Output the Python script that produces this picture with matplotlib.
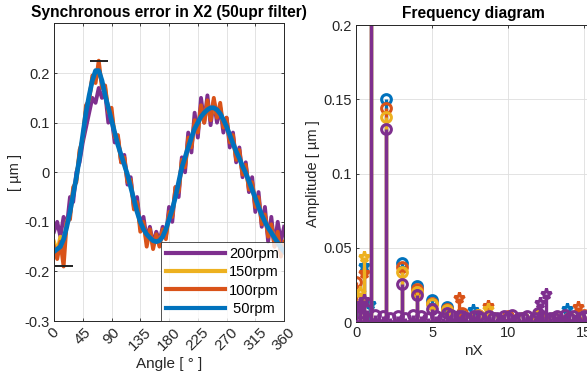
import numpy as np
import matplotlib.pyplot as plt

plt.rcParams['font.family'] = ['Liberation Sans', 'DejaVu Sans']

# ---- left panel: synchronous error vs angle ----
angle = np.arange(0, 365, 5)

err_50 = [-0.160, -0.155, -0.150, -0.135, -0.110, -0.080, -0.045, -0.010, 0.030, 0.075,
          0.120, 0.155, 0.185, 0.205, 0.205, 0.185, 0.155, 0.130, 0.105, 0.080,
          0.055, 0.035, 0.015, -0.005, -0.030, -0.055, -0.080, -0.100, -0.115, -0.125,
          -0.132, -0.138, -0.140, -0.138, -0.130, -0.115, -0.095, -0.075, -0.050, -0.020,
          0.010, 0.030, 0.050, 0.070, 0.088, 0.100, 0.112, 0.120, 0.126, 0.130,
          0.130, 0.126, 0.118, 0.106, 0.092, 0.075, 0.058, 0.042, 0.028, 0.012,
          -0.002, -0.018, -0.035, -0.052, -0.070, -0.086, -0.100, -0.112, -0.122, -0.132,
          -0.142, -0.152, -0.160]

err_100 = [-0.150, -0.175, -0.140, -0.190, -0.100, -0.095, -0.030, -0.020, 0.045, 0.065,
           0.135, 0.145, 0.195, 0.180, 0.225, 0.170, 0.175, 0.120, 0.130, 0.070,
           0.075, 0.020, 0.030, -0.020, -0.015, -0.075, -0.060, -0.120, -0.100, -0.150,
           -0.115, -0.155, -0.125, -0.150, -0.115, -0.135, -0.080, -0.090, -0.030, -0.040,
           0.025, 0.010, 0.070, 0.050, 0.105, 0.080, 0.135, 0.100, 0.145, 0.105,
           0.150, 0.110, 0.140, 0.090, 0.110, 0.060, 0.075, 0.025, 0.045, -0.005,
           0.015, -0.035, -0.020, -0.070, -0.050, -0.105, -0.085, -0.130, -0.105, -0.150,
           -0.120, -0.170, -0.140]

err_150 = [-0.140, -0.160, -0.130, -0.150, -0.100, -0.085, -0.035, -0.015, 0.040, 0.070,
           0.125, 0.150, 0.190, 0.195, 0.210, 0.180, 0.170, 0.125, 0.120, 0.075,
           0.065, 0.025, 0.025, -0.015, -0.020, -0.065, -0.065, -0.110, -0.105, -0.140,
           -0.120, -0.148, -0.130, -0.145, -0.120, -0.130, -0.085, -0.085, -0.040, -0.035,
           0.020, 0.015, 0.060, 0.055, 0.095, 0.085, 0.125, 0.105, 0.135, 0.110,
           0.140, 0.115, 0.130, 0.095, 0.100, 0.065, 0.065, 0.030, 0.035, 0.000,
           0.005, -0.030, -0.025, -0.060, -0.060, -0.095, -0.090, -0.120, -0.110, -0.140,
           -0.130, -0.160, -0.150]

err_200 = [-0.120, -0.100, -0.130, -0.090, -0.110, -0.050, -0.060, 0.000, 0.020, 0.060,
           0.090, 0.120, 0.150, 0.140, 0.170, 0.150, 0.160, 0.100, 0.110, 0.060,
           0.070, 0.020, 0.035, -0.025, -0.010, -0.070, -0.050, -0.110, -0.090, -0.135,
           -0.110, -0.145, -0.120, -0.140, -0.110, -0.130, -0.070, -0.100, -0.030, -0.050,
           0.030, 0.000, 0.080, 0.040, 0.120, 0.070, 0.150, 0.100, 0.155, 0.095,
           0.145, 0.100, 0.130, 0.080, 0.110, 0.050, 0.080, 0.020, 0.050, -0.010,
           0.020, -0.040, -0.010, -0.080, -0.040, -0.110, -0.070, -0.140, -0.090, -0.150,
           -0.100, -0.140, -0.110]

# ---- right panel: frequency diagram ----
harm_x = [0, 1, 2, 3, 4, 5, 6, 7, 8, 9, 10, 11, 12, 13, 14, 15]
amp_50 = [0.008, 0.50, 0.150, 0.040, 0.024, 0.015, 0.010, 0.004, 0.004, 0.003, 0.003, 0.003, 0.004, 0.003, 0.003, 0.004]
amp_100 = [0.027, 0.50, 0.144, 0.037, 0.022, 0.013, 0.009, 0.006, 0.005, 0.003, 0.004, 0.003, 0.005, 0.003, 0.003, 0.005]
amp_150 = [0.015, 0.50, 0.138, 0.034, 0.020, 0.012, 0.008, 0.004, 0.005, 0.003, 0.003, 0.003, 0.004, 0.003, 0.003, 0.004]
amp_200 = [0.010, 0.50, 0.130, 0.026, 0.018, 0.009, 0.006, 0.004, 0.004, 0.003, 0.003, 0.003, 0.006, 0.003, 0.003, 0.004]

# inter-harmonic peaks (drawn with asterisks)
ih_x_50, ih_a_50 = [0.5, 0.9, 7.7, 13.9], [0.038, 0.012, 0.008, 0.009]
ih_x_100, ih_a_100 = [0.5, 6.8, 8.7, 14.6], [0.033, 0.016, 0.011, 0.010]
ih_x_150, ih_a_150 = [0.25, 0.5, 8.7], [0.020, 0.044, 0.009]
ih_x_200, ih_a_200 = [0.25, 0.5, 12.1, 12.5], [0.012, 0.015, 0.013, 0.019]

# noise floor of the 200rpm run
floor_x = np.arange(0.25, 15.3, 0.5)
floor_200 = [0.006, 0.008, 0.005, 0.004, 0.003, 0.004, 0.003, 0.005, 0.004, 0.003,
             0.004, 0.003, 0.005, 0.004, 0.003, 0.004, 0.003, 0.004, 0.003, 0.004,
             0.005, 0.003, 0.004, 0.003, 0.004, 0.003, 0.004, 0.005, 0.004, 0.003,
             0.004]

c_200, c_150, c_100, c_50 = '#7E2F8E', '#EDB120', '#D95319', '#0072BD'
txt = '#262626'

fig = plt.figure(figsize=(5.87, 3.79), dpi=100)
ax1 = fig.add_axes([0.092, 0.153, 0.392, 0.785])
ax2 = fig.add_axes([0.6065, 0.150, 0.3986, 0.784])

for ax in (ax1, ax2):
    ax.grid(True, color='#dedede', lw=0.6)
    ax.set_axisbelow(True)
    ax.tick_params(direction='in', top=True, right=True, length=2.5, width=0.6,
                   labelsize=10.5, colors=txt, pad=3)
    for s in ax.spines.values():
        s.set_color(txt)
        s.set_linewidth(0.7)

# left
lw = 2.8
ax1.plot(angle, err_200, color=c_200, lw=lw, label='200rpm')
ax1.plot(angle, err_150, color=c_150, lw=lw, label='150rpm')
ax1.plot(angle, err_100, color=c_100, lw=lw, label='100rpm')
ax1.plot(angle, err_50, color=c_50, lw=lw + 0.6, label=' 50rpm')

# max / min markers of the 100rpm trace
i_max, i_min = int(np.argmax(err_100)), int(np.argmin(err_100))
ax1.plot([angle[i_max], angle[i_min]], [err_100[i_max], err_100[i_min]],
         ls='none', marker='_', ms=13, mew=1.4, color='#222222')

ax1.set_xlim(0, 360)
ax1.set_ylim(-0.3, 0.3)
ax1.set_xticks(np.arange(0, 361, 45))
ax1.set_yticks([-0.3, -0.2, -0.1, 0, 0.1, 0.2])
ax1.set_yticklabels(['-0.3', '-0.2', '-0.1', '0', '0.1', '0.2'])
for lab in ax1.get_xticklabels():
    lab.set_rotation(45)
    lab.set_ha('center')
    lab.set_va('top')
    lab.set_fontsize(11)
ax1.set_title('Synchronous error in X2 (50upr filter)', fontsize=11.2,
              fontweight='bold', color='black', pad=5)
ax1.set_xlabel('Angle [ ° ]', fontsize=11, color=txt, labelpad=3)
ax1.set_ylabel('[ µm ]', fontsize=10.5, color=txt, labelpad=2)
leg = ax1.legend(loc='lower right', fontsize=10.5, handlelength=4.0,
                 borderaxespad=0.0, frameon=True, fancybox=False,
                 borderpad=0.35, labelspacing=0.3, handletextpad=0.3)
leg.get_frame().set_edgecolor(txt)
leg.get_frame().set_linewidth(0.7)
for h in leg.get_lines():
    h.set_linewidth(3)

# right
series = [(harm_x, amp_50, ih_x_50, ih_a_50, c_50),
          (harm_x, amp_100, ih_x_100, ih_a_100, c_100),
          (harm_x, amp_150, ih_x_150, ih_a_150, c_150),
          (harm_x, amp_200, ih_x_200, ih_a_200, c_200)]
for hx, ha, ix, ia, col in series:
    for xs, ys, mk in ((hx, ha, 'o'), (ix, ia, '*')):
        st = ax2.stem(xs, ys, basefmt=' ')
        st.markerline.set_marker(mk)
        st.markerline.set_color(col)
        st.markerline.set_markerfacecolor('none')
        st.markerline.set_markersize(7 if mk == 'o' else 8)
        st.markerline.set_markeredgewidth(2.2)
        st.stemlines.set_color(col)
        st.stemlines.set_linewidth(2.4)

st = ax2.stem(floor_x, floor_200, basefmt=' ')
st.markerline.set_color(c_200)
st.markerline.set_markerfacecolor('none')
st.markerline.set_markersize(7)
st.markerline.set_markeredgewidth(2.2)
st.stemlines.set_color(c_200)
st.stemlines.set_linewidth(2.4)
ax2.axhline(0, color=c_200, lw=2.6, zorder=3)

ax2.set_xlim(0, 15.39)
ax2.set_ylim(0, 0.2)
ax2.set_xticks([0, 5, 10, 15])
ax2.set_yticks([0, 0.05, 0.1, 0.15, 0.2])
ax2.set_yticklabels(['0', '0.05', '0.1', '0.15', '0.2'])
ax2.set_title('Frequency diagram', fontsize=11.2, fontweight='bold',
              color='black', pad=5)
ax2.set_xlabel('nX', fontsize=11, color=txt, labelpad=3)
ax2.set_ylabel('Amplitude [ µm ]', fontsize=10.5, color=txt, labelpad=2)

fig.savefig('out.png', dpi=100)
